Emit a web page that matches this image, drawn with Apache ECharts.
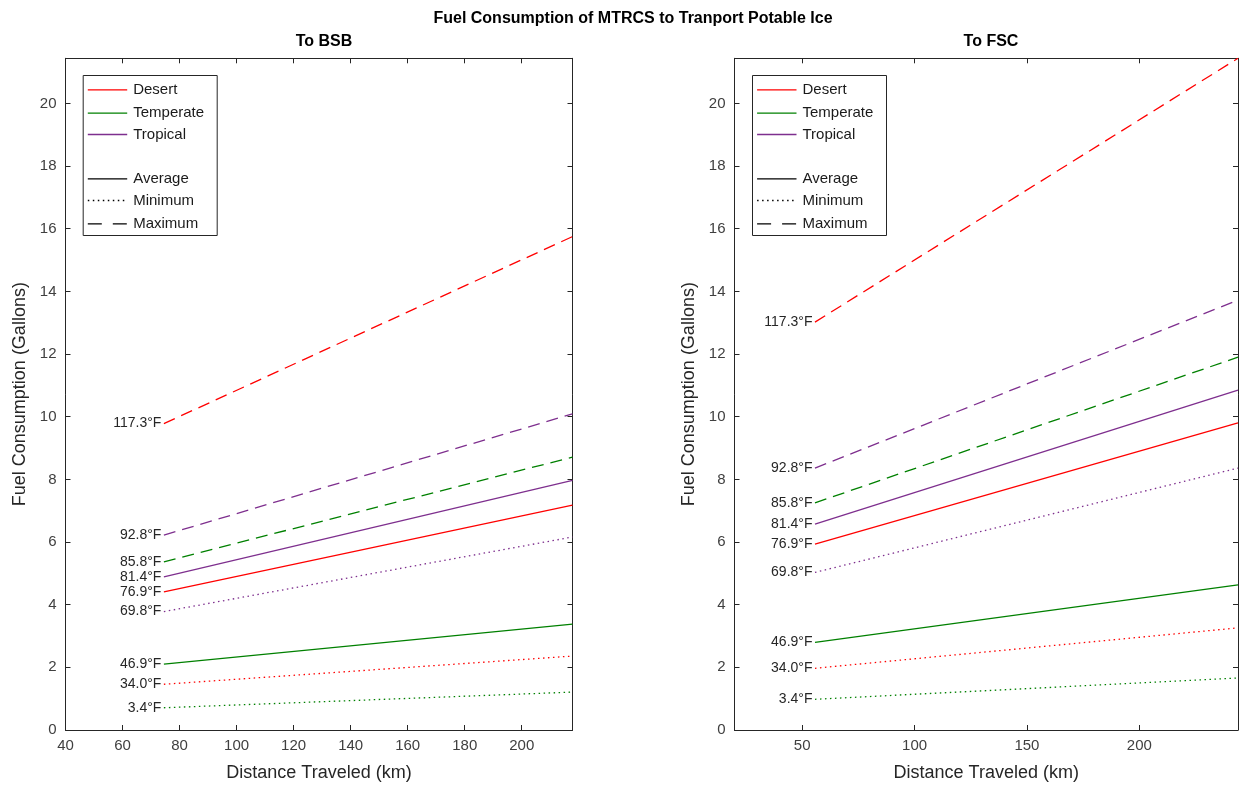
<!DOCTYPE html>
<html>
<head>
<meta charset="utf-8">
<script src="https://cdn.jsdelivr.net/npm/echarts@6/dist/echarts.min.js"></script>
<style>
html,body{margin:0;padding:0;background:#fff;}
#chart{width:1241px;height:792px;}
</style>
</head>
<body>
<div id="chart"></div>
<script>
// ---------------- DATA ----------------
const lineNames = ['Desert Max','Tropical Max','Temperate Max','Tropical Avg','Desert Avg','Tropical Min','Temperate Avg','Desert Min','Temperate Min'];
const lineClimate = ['Desert','Tropical','Temperate','Tropical','Desert','Tropical','Temperate','Desert','Temperate'];
const lineStat = ['Maximum','Maximum','Maximum','Average','Average','Minimum','Average','Minimum','Minimum'];
const tempLabels = ['117.3°F','92.8°F','85.8°F','81.4°F','76.9°F','69.8°F','46.9°F','34.0°F','3.4°F'];

const bsbDistance = [74.5, 217.8];
const bsbStart = [9.78, 6.22, 5.37, 4.89, 4.41, 3.78, 2.10, 1.46, 0.71];
const bsbEnd   = [15.75, 10.09, 8.71, 7.97, 7.18, 6.16, 3.38, 2.36, 1.21];

const fscDistance = [55.7, 243.9];
const fscStart = [13.02, 8.36, 7.25, 6.57, 5.93, 5.03, 2.80, 1.97, 0.98];
const fscEnd   = [21.44, 13.72, 11.90, 10.85, 9.80, 8.36, 4.63, 3.26, 1.66];

const yTicks = [0,2,4,6,8,10,12,14,16,18,20];
const bsbXTicks = [40,60,80,100,120,140,160,180,200];
const fscXTicks = [50,100,150,200];
const yRange = [0, 21.44];
const bsbXRange = [40, 217.8];
const fscXRange = [19.9, 243.9];

const legendItems = ['Desert','Temperate','Tropical','','Average','Minimum','Maximum'];

// ---------------- STYLE ----------------
const climateColor = {Desert:'#FF0000', Temperate:'#008000', Tropical:'#7E2F8E'};
const statDash = {Average:'solid', Minimum:[1.5,3.5], Maximum:[12,7]};
const legendDash = {Average:null, Minimum:[1.5,3.5], Maximum:[14,11]};
const axisColor = '#262626';
const FONT = 'Liberation Sans, Arial, Helvetica, sans-serif';

const grids = [
  {left:65.5, top:58.3, width:507, height:671.7},
  {left:734.5, top:58.3, width:503.5, height:671.7}
];

function mainX(gi, range, ticks){
  return {
    type:'value', gridIndex:gi, min:range[0], max:range[1], position:'bottom',
    name:'Distance Traveled (km)', nameLocation:'middle', nameGap:34,
    nameTextStyle:{fontFamily:FONT, fontSize:18, color:axisColor},
    axisLine:{show:true, onZero:false, lineStyle:{color:axisColor, width:1}},
    axisTick:{show:true, inside:true, length:5, customValues:ticks, lineStyle:{color:axisColor}},
    axisLabel:{show:true, customValues:ticks, margin:8, fontFamily:FONT, fontSize:15, color:'#404040'},
    splitLine:{show:false}
  };
}
function topX(gi, range, ticks){
  return {
    type:'value', gridIndex:gi, min:range[0], max:range[1], position:'top',
    axisLine:{show:true, onZero:false, lineStyle:{color:axisColor, width:1}},
    axisTick:{show:true, inside:true, length:5, customValues:ticks, lineStyle:{color:axisColor}},
    axisLabel:{show:false}, splitLine:{show:false}
  };
}
function mainY(gi){
  return {
    type:'value', gridIndex:gi, min:yRange[0], max:yRange[1], position:'left',
    name:'Fuel Consumption (Gallons)', nameLocation:'middle', nameGap:36,
    nameTextStyle:{fontFamily:FONT, fontSize:18, color:axisColor},
    axisLine:{show:true, onZero:false, lineStyle:{color:axisColor, width:1}},
    axisTick:{show:true, inside:true, length:5, customValues:yTicks, lineStyle:{color:axisColor}},
    axisLabel:{show:true, customValues:yTicks, margin:9, fontFamily:FONT, fontSize:15, color:'#404040'},
    splitLine:{show:false}
  };
}
function rightY(gi){
  return {
    type:'value', gridIndex:gi, min:yRange[0], max:yRange[1], position:'right',
    axisLine:{show:true, onZero:false, lineStyle:{color:axisColor, width:1}},
    axisTick:{show:true, inside:true, length:5, customValues:yTicks, lineStyle:{color:axisColor}},
    axisLabel:{show:false}, splitLine:{show:false}
  };
}

function buildSeries(xAxisIndex, yAxisIndex, dist, starts, ends){
  return lineNames.map((nm, i) => {
    const color = climateColor[lineClimate[i]];
    return {
      name: nm, type:'line', xAxisIndex, yAxisIndex,
      symbol:'circle', symbolSize:1, showSymbol:true, silent:true, animation:false,
      itemStyle:{color:'rgba(0,0,0,0)', borderWidth:0},
      lineStyle:{color:color, width:1.3, type:statDash[lineStat[i]]},
      label:{show:false},
      data:[
        {value:[dist[0], starts[i]], label:{show:true, position:'left', distance:2, formatter:tempLabels[i],
          fontFamily:FONT, fontSize:14, color:axisColor}},
        {value:[dist[1], ends[i]]}
      ]
    };
  });
}

function buildLegend(left, top){
  const w = 134, h = 160;
  const rowY = [14.3, 37.7, 59, null, 103.3, 125, 148.3];
  const children = [{type:'rect', shape:{x:0, y:0, width:w, height:h}, style:{fill:'#fff', stroke:axisColor, lineWidth:1}}];
  legendItems.forEach((txt, i) => {
    if (!txt) return;
    let color, dash;
    if (climateColor[txt]) { color = climateColor[txt]; dash = null; }
    else { color = '#000'; dash = legendDash[txt]; }
    children.push({type:'line', shape:{x1:4.6, y1:rowY[i], x2:44, y2:rowY[i]},
      style:{stroke:color, lineWidth:1.3, lineDash:dash}});
    children.push({type:'text', x:50, y:rowY[i], style:{text:txt, fill:'#1a1a1a', font:'15px ' + FONT, verticalAlign:'middle', align:'left'}});
  });
  return {type:'group', left:left, top:top, children};
}

const option = {
  animation:false,
  backgroundColor:'#fff',
  title:[
    {text:'Fuel Consumption of MTRCS to Tranport Potable Ice', left:628, top:6, textAlign:'center',
      textStyle:{fontFamily:FONT, fontSize:16, fontWeight:'bold', color:'#000'}},
    {text:'To BSB', left:319, top:29, textAlign:'center', textStyle:{fontFamily:FONT, fontSize:16, fontWeight:'bold', color:'#000'}},
    {text:'To FSC', left:986, top:29, textAlign:'center', textStyle:{fontFamily:FONT, fontSize:16, fontWeight:'bold', color:'#000'}}
  ],
  grid: grids,
  xAxis:[mainX(0, bsbXRange, bsbXTicks), topX(0, bsbXRange, bsbXTicks), mainX(1, fscXRange, fscXTicks), topX(1, fscXRange, fscXTicks)],
  yAxis:[mainY(0), rightY(0), mainY(1), rightY(1)],
  series:[].concat(
    buildSeries(0, 0, bsbDistance, bsbStart, bsbEnd),
    buildSeries(2, 2, fscDistance, fscStart, fscEnd)
  ),
  graphic:[buildLegend(82.7, 75), buildLegend(752, 75)]
};

const chart = echarts.init(document.getElementById('chart'), null, {renderer:'canvas'});
chart.setOption(option);
</script>
</body>
</html>
